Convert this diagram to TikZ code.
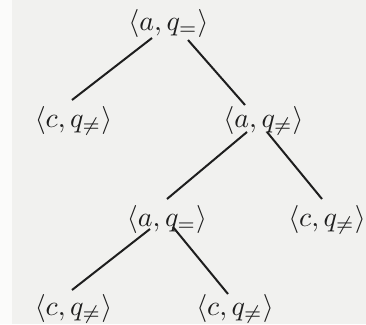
\documentclass[tikz,border=0pt]{standalone}
\usepackage{amssymb}
\definecolor{ink}{HTML}{1E1E1E}
\definecolor{paper}{HTML}{F1F1EF}
\newcommand{\bigpair}[1]{\scalebox{2.8}{$#1$}}
\begin{document}
\begin{tikzpicture}[x=1pt,y=-1pt,
  lbl/.style={anchor=base,inner sep=0pt,text=ink},
  edge/.style={draw=ink,line width=2pt}]
\fill[paper] (0,0) rectangle (366,324);
\fill[white!70!paper] (0,0) rectangle (12,324);
\useasboundingbox (0,0) rectangle (366,324);
\node[lbl] (root) at (168.5,30) {\bigpair{\langle a, q_{=}\rangle}};
\node[lbl] (c1) at (73.5,127) {\bigpair{\langle c, q_{\neq}\rangle}};
\node[lbl] (a2) at (263.5,127) {\bigpair{\langle a, q_{\neq}\rangle}};
\node[lbl] (a3) at (167,226) {\bigpair{\langle a, q_{=}\rangle}};
\node[lbl] (c2) at (327,226) {\bigpair{\langle c, q_{\neq}\rangle}};
\node[lbl] (c3) at (73.5,315) {\bigpair{\langle c, q_{\neq}\rangle}};
\node[lbl] (c4) at (235,315) {\bigpair{\langle c, q_{\neq}\rangle}};
\draw[edge] ([shift={(-16.5,8)}]root.base) -- ([shift={(-1.5,-27)}]c1.base);
\draw[edge] ([shift={(19.5,10)}]root.base) -- ([shift={(-18.5,-22)}]a2.base);
\draw[edge] ([shift={(-16.5,5)}]a2.base) -- ([shift={(0,-27)}]a3.base);
\draw[edge] ([shift={(3.5,5)}]a2.base) -- ([shift={(-5,-27)}]c2.base);
\draw[edge] ([shift={(-17,3)}]a3.base) -- ([shift={(-1.5,-25)}]c3.base);
\draw[edge] ([shift={(6,1)}]a3.base) -- ([shift={(-7,-21)}]c4.base);
\end{tikzpicture}
\end{document}
